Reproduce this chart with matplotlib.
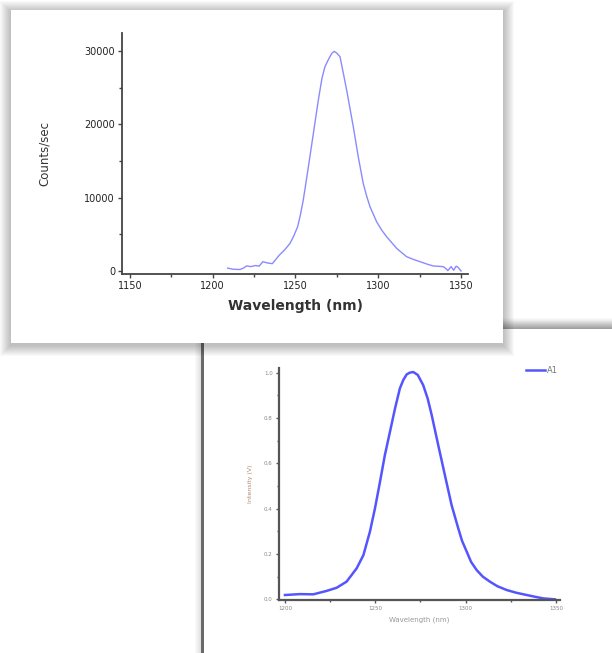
import matplotlib
matplotlib.use("Agg")
from matplotlib import pyplot as plt
from matplotlib.patches import Rectangle
from matplotlib.ticker import MultipleLocator, FormatStrFormatter

# upper screenshot: measured spectrum
top_wl = [1209, 1212, 1216.5, 1219, 1220.5, 1223, 1226, 1228, 1230.3, 1233, 1236, 1240.3,
          1243.5, 1246.7, 1249, 1251.3, 1253, 1254.7, 1257.8, 1260.8, 1263.8, 1266, 1267.8,
          1270, 1272, 1273.4, 1275, 1276.9, 1280.9, 1284.9, 1287.9, 1290.9, 1293, 1295, 1299,
          1302, 1305, 1311.1, 1317.1, 1321, 1325.2, 1330, 1333.3, 1336, 1339.3, 1341,
          1342, 1344, 1345.5, 1347, 1348, 1350]
top_counts = [400, 250, 200, 450, 700, 600, 750, 650, 1270, 1100, 1000, 2180,
              2900, 3770, 4800, 6040, 7700, 9680, 14220, 18770, 23320, 26300, 27860,
              28900, 29700, 29950, 29700, 29220, 24680, 19680, 15590, 11960, 10200, 8770, 6720,
              5600, 4680, 3090, 1950, 1600, 1270, 900, 680, 650, 590, 300,
              50, 600, 100, 650, 550, 0]

# lower screenshot: fitted curve A1
low_wl = [1200, 1208.3, 1215.7, 1223, 1228.6, 1234.1, 1239.7, 1243.4, 1247, 1249.8,
          1252.6, 1255.3, 1258.1, 1260.9, 1263.6, 1265.5, 1267.3, 1269, 1271, 1273.5,
          1276.5, 1279, 1281.2, 1284.8, 1288.5, 1292.2, 1295.9, 1298, 1300.6, 1303,
          1306.1, 1309.5, 1313.4, 1317.5, 1322.7, 1328, 1333.8, 1338.5, 1343, 1349.4]
low_int = [0.019, 0.023, 0.022, 0.037, 0.051, 0.078, 0.137, 0.195, 0.298, 0.401,
           0.519, 0.637, 0.739, 0.842, 0.931, 0.968, 0.992, 1.0, 1.003, 0.99,
           0.945, 0.885, 0.813, 0.681, 0.548, 0.416, 0.313, 0.258, 0.21, 0.165,
           0.129, 0.1, 0.078, 0.058, 0.041, 0.029, 0.019, 0.011, 0.004, 0.0]

W, H = 612, 653
fig = plt.figure(figsize=(W / 100, H / 100), dpi=100)

# background canvas in pixel units for the two "screenshot" panels
bg = fig.add_axes([0, 0, 1, 1])
bg.set_xlim(0, W)
bg.set_ylim(H, 0)
bg.axis("off")


def shadow(x0, y0, x1, y1, size, alpha, dx=0, dy=0):
    for i in range(size, 0, -1):
        bg.add_patch(Rectangle((x0 - i + dx, y0 - i + dy), x1 - x0 + 2 * i, y1 - y0 + 2 * i,
                               facecolor="black", alpha=alpha, lw=0))


# lower panel (behind)
shadow(203, 329, 640, 680, 8, 0.02)
for i in range(1, 12):
    bg.add_patch(Rectangle((203, 329 - i), 440, i, facecolor="black", alpha=0.025, lw=0))
bg.add_patch(Rectangle((203, 329), 440, 350, facecolor="white", lw=0))
bg.add_patch(Rectangle((201, 329), 3, 330, facecolor="#6a6a6a", lw=0))

# upper panel (front)
shadow(11, 10, 503, 343, 11, 0.022, dy=2)
bg.add_patch(Rectangle((11, 10), 492, 333, facecolor="white", lw=0))

# ---- top chart ----
ax1 = fig.add_axes([122 / W, 1 - 274 / H, 346 / W, 241 / H])
ax1.patch.set_alpha(0)
ax1.plot(top_wl, top_counts, color="#8a8aff", lw=1.0)
ax1.set_xlim(1145.2, 1354.2)
ax1.set_ylim(-409, 32455)
for s in ["top", "right"]:
    ax1.spines[s].set_visible(False)
for s in ["left", "bottom"]:
    ax1.spines[s].set_color("#444444")
    ax1.spines[s].set_linewidth(1.3)
ax1.xaxis.set_major_locator(MultipleLocator(50))
ax1.xaxis.set_minor_locator(MultipleLocator(25))
ax1.yaxis.set_major_locator(MultipleLocator(10000))
ax1.yaxis.set_minor_locator(MultipleLocator(5000))
ax1.tick_params(which="major", length=3, width=1, color="#444444", labelsize=7,
                labelcolor="#222222", pad=2)
ax1.tick_params(which="minor", length=2, width=1, color="#444444")
ax1.set_xlabel("Wavelength (nm)", fontsize=10, fontweight="bold", color="#333333", labelpad=6)
ax1.set_ylabel("Counts/sec", fontsize=8.5, color="#333333", labelpad=24)

# ---- bottom chart ----
ax2 = fig.add_axes([279 / W, 1 - 600 / H, 281 / W, 232.3 / H])
ax2.patch.set_alpha(0)
ax2.plot(low_wl, low_int, color="#5555ff", lw=1.8, label="A1")
ax2.set_xlim(1196.7, 1352.2)
ax2.set_ylim(-0.003, 1.022)
for s in ["top", "right"]:
    ax2.spines[s].set_visible(False)
for s in ["left", "bottom"]:
    ax2.spines[s].set_color("#555555")
    ax2.spines[s].set_linewidth(1.6)
ax2.xaxis.set_major_locator(MultipleLocator(50))
ax2.xaxis.set_minor_locator(MultipleLocator(25))
ax2.yaxis.set_major_locator(MultipleLocator(0.2))
ax2.yaxis.set_minor_locator(MultipleLocator(0.1))
ax2.yaxis.set_major_formatter(FormatStrFormatter("%.1f"))
ax2.tick_params(which="major", length=2.5, width=1, color="#555555", labelsize=4,
                labelcolor="#888888", pad=2)
ax2.tick_params(which="minor", length=1.5, width=1, color="#555555")
ax2.set_xlabel("Wavelength (nm)", fontsize=5, color="#999999", labelpad=4)
ax2.set_ylabel("Intensity (V)", fontsize=4.5, color="#b08a70", labelpad=8)
ax2.legend(loc="upper right", bbox_to_anchor=(1.02, 1.04), frameon=False, fontsize=6,
           handlelength=2.2, handletextpad=0.3, labelcolor="#777777")

fig.savefig("out.png", dpi=100)
